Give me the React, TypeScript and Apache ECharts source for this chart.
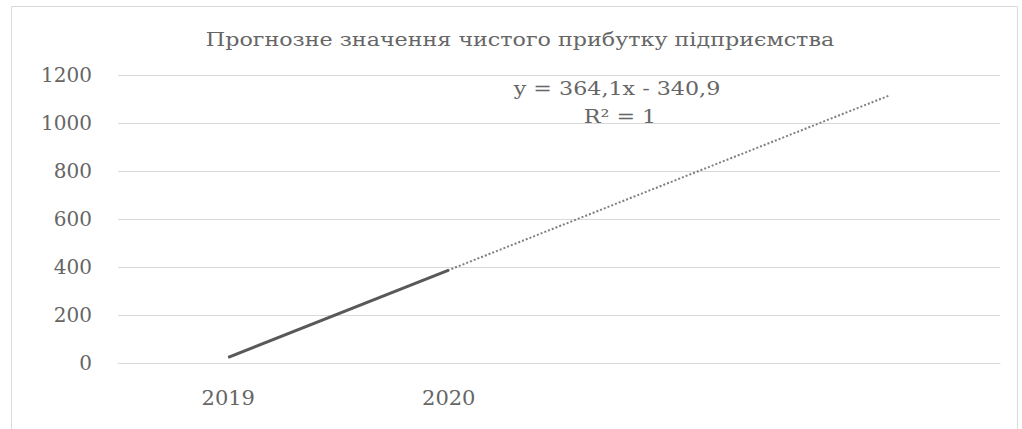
import React, { useEffect, useRef } from "react";
import * as echarts from "echarts";

const categories = ["2019", "2020", "", ""];
const actualValues: (number | null)[] = [23.2, 387.3, null, null];
const trendValues = [23.2, 387.3, 751.4, 1115.5];
const titleText = "Прогнозне значення чистого прибутку підприємства";
const equationText = "y = 364,1x - 340,9";
const r2Text = "R² = 1";

export default function App() {
  const ref = useRef<HTMLDivElement>(null);
  useEffect(() => {
    document.body.style.margin = "0";
    const chart = echarts.init(ref.current!, null, { renderer: "svg" });
    const textColor = "#666666";
    const font = "'DejaVu Serif', 'Liberation Serif', serif";
    chart.setOption({
      animation: false,
      backgroundColor: "#ffffff",
      grid: { left: 118, right: 22, top: 75, bottom: 66, containLabel: false },
      xAxis: {
        type: "category",
        data: categories,
        boundaryGap: true,
        axisLine: { show: true, lineStyle: { color: "#d9d9d9", width: 1 } },
        axisTick: { show: false },
        axisLabel: { color: textColor, fontFamily: font, fontSize: 21, margin: 24 },
        splitLine: { show: false },
      },
      yAxis: {
        type: "value",
        min: 0,
        max: 1200,
        interval: 200,
        axisLine: { show: false },
        axisTick: { show: false },
        axisLabel: {
          color: textColor,
          fontFamily: font,
          fontSize: 20,
          margin: 26,
          formatter: (v: number) => String(v),
        },
        splitLine: { show: true, lineStyle: { color: "#d9d9d9", width: 1 } },
      },
      graphic: [
        {
          type: "rect",
          shape: { x: 11.5, y: 6.5, width: 1006, height: 440 },
          style: { fill: "none", stroke: "#d9d9d9", lineWidth: 1 },
          silent: true,
        },
        {
          type: "text",
          x: 520,
          y: 40,
          scaleX: 1.17,
          style: {
            text: titleText,
            fill: textColor,
            font: `19px ${font}`,
            align: "center",
            verticalAlign: "middle",
          },
        },
        {
          type: "text",
          x: 617,
          y: 89,
          scaleX: 1.17,
          style: {
            text: equationText,
            fill: textColor,
            font: `19px ${font}`,
            align: "center",
            verticalAlign: "middle",
          },
        },
        {
          type: "text",
          x: 620,
          y: 117,
          scaleX: 1.17,
          style: {
            text: r2Text,
            fill: textColor,
            font: `19px ${font}`,
            align: "center",
            verticalAlign: "middle",
          },
        },
      ],
      series: [
        {
          name: "Лінійна (тренд)",
          type: "line",
          data: trendValues,
          symbol: "none",
          lineStyle: { color: "#7f7f7f", width: 2, type: [2, 2] },
          z: 2,
        },
        {
          name: "Чистий прибуток",
          type: "line",
          data: actualValues,
          symbol: "none",
          lineStyle: { color: "#595959", width: 3 },
          z: 3,
        },
      ],
    });
    return () => chart.dispose();
  }, []);
  return (
    <div
      ref={ref}
      style={{ position: "absolute", left: 0, top: 0, width: 1022, height: 429 }}
    />
  );
}
